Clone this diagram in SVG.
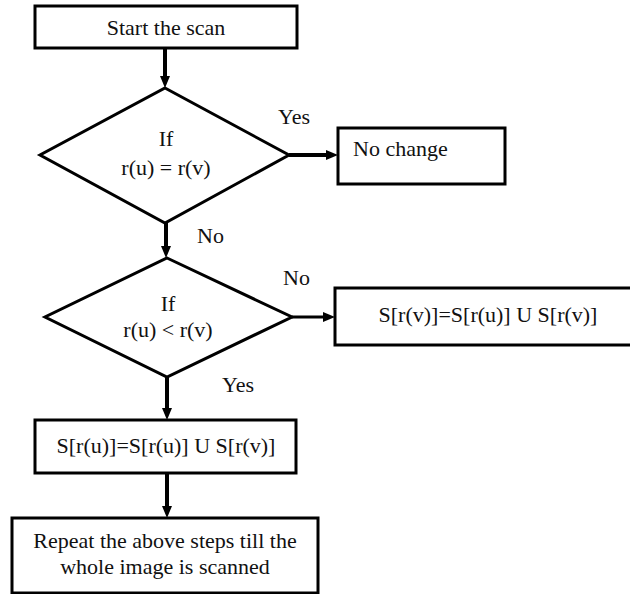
<svg xmlns="http://www.w3.org/2000/svg" width="630" height="594" viewBox="0 0 630 594">
  <style>
    .box { fill: #fff; stroke: #000; stroke-width: 3; }
    .dia { fill: #fff; stroke: #000; stroke-width: 3; stroke-linejoin: miter; }
    .edge { stroke: #000; stroke-width: 4; fill: none; }
    .t { font-family: "Liberation Serif", "Times New Roman", serif; font-size: 22px; fill: #111; }
    .c { text-anchor: middle; }
  </style>
  <defs>
    <marker id="head" viewBox="0 0 12 10" markerWidth="12" markerHeight="10" refX="2" refY="5" orient="auto" markerUnits="userSpaceOnUse">
      <path d="M0,0 L12,5 L0,10 z" fill="#000"/>
    </marker>
  </defs>

  <rect width="630" height="594" fill="#fff"/>

  <g id="connectors">
    <line class="edge" x1="165" y1="48" x2="165" y2="78" marker-end="url(#head)"/>
    <line class="edge" x1="289" y1="155" x2="328" y2="155" marker-end="url(#head)"/>
    <line class="edge" x1="166" y1="223" x2="166" y2="248" marker-end="url(#head)"/>
    <line class="edge" x1="292" y1="317" x2="325" y2="317" marker-end="url(#head)" style="stroke-width:3"/>
    <line class="edge" x1="167" y1="377" x2="167" y2="410" marker-end="url(#head)"/>
    <line class="edge" x1="167" y1="473" x2="167" y2="508" marker-end="url(#head)"/>
    <text class="t" x="278" y="124">Yes</text>
    <text class="t" x="197" y="243">No</text>
    <text class="t" x="283" y="285">No</text>
    <text class="t" x="222" y="392">Yes</text>
  </g>

  <g id="start">
    <rect class="box" x="35" y="6" width="262" height="42"/>
    <text class="t c" x="166" y="35">Start the scan</text>
  </g>

  <g id="cond-equal">
    <polygon class="dia" points="165,88 289,155 165,223 40,155"/>
    <text class="t c" x="166" y="146">If</text>
    <text class="t c" x="166" y="175">r(u) = r(v)</text>
  </g>

  <g id="no-change">
    <rect class="box" x="338" y="128" width="167" height="56"/>
    <text class="t" x="353" y="156">No change</text>
  </g>

  <g id="cond-less">
    <polygon class="dia" points="167,258 292,317 167,377 45,317"/>
    <text class="t c" x="168" y="311">If</text>
    <text class="t c" x="168" y="337">r(u) &lt; r(v)</text>
  </g>

  <g id="merge-v">
    <rect class="box" x="335" y="288" width="300" height="57"/>
    <text class="t c" x="488" y="322">S[r(v)]=S[r(u)] U S[r(v)]</text>
  </g>

  <g id="merge-u">
    <rect class="box" x="35" y="420" width="261" height="53"/>
    <text class="t c" x="166" y="453">S[r(u)]=S[r(u)] U S[r(v)]</text>
  </g>

  <g id="repeat">
    <rect class="box" x="12" y="518" width="306" height="75"/>
    <text class="t c" x="165" y="548">Repeat the above steps till the</text>
    <text class="t c" x="165" y="574">whole image is scanned</text>
  </g>
</svg>
